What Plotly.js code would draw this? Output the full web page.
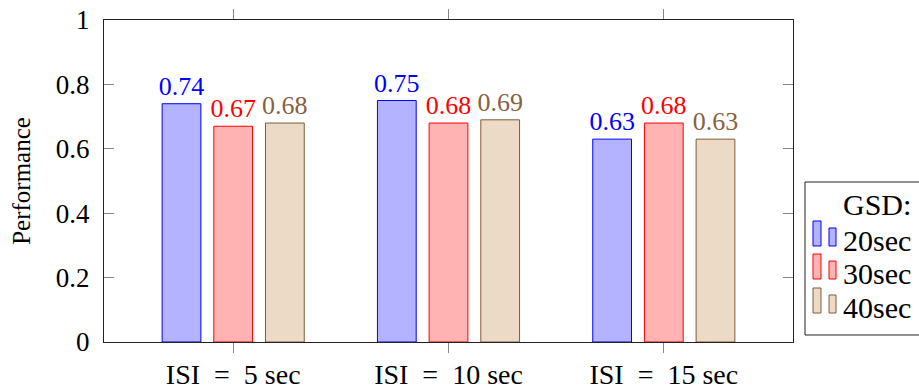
<!DOCTYPE html>
<html>
<head>
<meta charset="utf-8">
<script src="https://cdn.plot.ly/plotly-3.0.1.min.js"></script>
<style>
  html, body { margin: 0; padding: 0; background: #fff; }
  #chart { width: 919px; height: 392px; }
</style>
</head>
<body>
<div id="chart"></div>
<script>
// Inter-stimulus interval groups on the x axis
const categories = ['ISI\u2002=\u20025 sec', 'ISI\u2002=\u200210 sec', 'ISI\u2002=\u200215 sec'];

// Performance for each GSD setting
const legendTitle = 'GSD:';
const seriesNames = ['20sec', '30sec', '40sec'];
const gsd20 = [0.74, 0.75, 0.63];
const gsd30 = [0.67, 0.68, 0.68];
const gsd40 = [0.68, 0.69, 0.63];

const yTickValues = [0, 0.2, 0.4, 0.6, 0.8, 1];
const yTickLabels = ['0', '0.2', '0.4', '0.6', '0.8', '1'];

const FONT = 'Liberation Serif, Times New Roman, serif';

const styles = [
  { fill: 'rgb(179,179,255)', line: 'rgb(0,0,255)',   text: 'rgb(0,0,255)',   offset: -0.33 },
  { fill: 'rgb(255,179,179)', line: 'rgb(255,0,0)',   text: 'rgb(255,0,0)',   offset: -0.09 },
  { fill: 'rgb(236,217,198)', line: 'rgb(128,92,58)', text: 'rgb(134,98,62)', offset: 0.15 }
];

const seriesValues = [gsd20, gsd30, gsd40];
const xIdx = categories.map((_, i) => i);

const traces = seriesValues.map((vals, k) => ({
  type: 'bar',
  name: seriesNames[k],
  x: xIdx,
  y: vals,
  width: 0.18,
  offset: styles[k].offset,
  marker: { color: styles[k].fill, line: { color: styles[k].line, width: 1 } },
  text: vals.map(v => v.toFixed(2)),
  textposition: 'outside',
  constraintext: 'none',
  cliponaxis: false,
  textfont: { family: FONT, size: 26, color: styles[k].text },
  showlegend: false,
  hoverinfo: 'none'
}));

// Plot-area geometry (pixels) used to place the boxed legend beside the axes
const M = { l: 104, r: 126, t: 20, b: 50 };
const W = 919, H = 392;
const plotW = W - M.l - M.r, plotH = H - M.t - M.b;
const px = x => (x - M.l) / plotW;
const py = y => (H - M.b - y) / plotH;

// Legend: framed box, right-aligned title, two-bar swatch per series
const shapes = [{
  type: 'rect', xref: 'paper', yref: 'paper',
  x0: px(805), x1: px(930), y0: py(335), y1: py(182),
  line: { color: '#222', width: 1 }, fillcolor: '#fff', layer: 'above'
}];
const annotations = [{
  xref: 'paper', yref: 'paper', x: px(913), y: py(204), xanchor: 'right', yanchor: 'middle',
  showarrow: false, text: legendTitle, font: { family: FONT, size: 30, color: '#000' }
}];
const rowCenters = [240, 273, 307];
seriesNames.forEach((name, k) => {
  const cy = rowCenters[k];
  const bottom = cy + 6;
  shapes.push({
    type: 'rect', xref: 'paper', yref: 'paper',
    x0: px(813), x1: px(821), y0: py(bottom), y1: py(bottom - 25),
    line: { color: styles[k].line, width: 1 }, fillcolor: styles[k].fill, layer: 'above'
  });
  shapes.push({
    type: 'rect', xref: 'paper', yref: 'paper',
    x0: px(829), x1: px(836), y0: py(bottom), y1: py(bottom - 18),
    line: { color: styles[k].line, width: 1 }, fillcolor: styles[k].fill, layer: 'above'
  });
  annotations.push({
    xref: 'paper', yref: 'paper', x: px(841), y: py(cy), xanchor: 'left', yanchor: 'middle',
    showarrow: false, text: name, font: { family: FONT, size: 30, color: '#000' }
  });
});

const layout = {
  width: W,
  height: H,
  margin: M,
  paper_bgcolor: '#fff',
  plot_bgcolor: '#fff',
  showlegend: false,
  barmode: 'overlay',
  font: { family: FONT, size: 26, color: '#000' },
  shapes: shapes,
  annotations: annotations,
  xaxis: {
    range: [-0.6, 2.6],
    tickmode: 'array',
    tickvals: xIdx,
    ticktext: categories,
    ticks: 'outside',
    ticklen: 10,
    tickcolor: '#888',
    tickwidth: 1,
    mirror: 'ticks',
    showline: true,
    linecolor: '#222',
    linewidth: 1,
    showgrid: false,
    zeroline: false,
    ticklabelstandoff: -3,
    tickfont: { family: FONT, size: 28, color: '#000' }
  },
  yaxis: {
    range: [0, 1],
    tickmode: 'array',
    tickvals: yTickValues,
    ticktext: yTickLabels,
    ticks: 'inside',
    ticklen: 10,
    tickcolor: '#888',
    tickwidth: 1,
    mirror: 'ticks',
    showline: true,
    linecolor: '#222',
    linewidth: 1,
    showgrid: false,
    zeroline: false,
    ticklabelstandoff: 8,
    tickfont: { family: FONT, size: 27, color: '#000' },
    title: { text: 'Performance', font: { family: FONT, size: 25, color: '#000' }, standoff: 18 }
  }
};

Plotly.newPlot('chart', traces, layout, { staticPlot: true, displayModeBar: false });
</script>
</body>
</html>
